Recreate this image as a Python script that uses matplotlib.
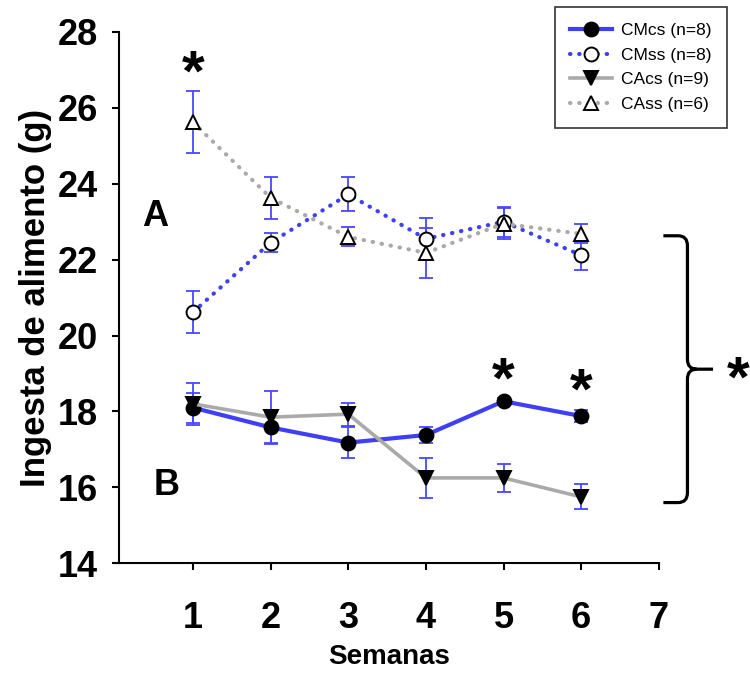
import numpy as np
import matplotlib
matplotlib.use("Agg")
import matplotlib.pyplot as plt
from matplotlib.path import Path
from matplotlib.patches import PathPatch

plt.rcParams['font.family'] = ['Liberation Sans', 'DejaVu Sans']

semanas = [1, 2, 3, 4, 5, 6]

# medias y error estandar por grupo
cmcs = [18.1, 17.58, 17.18, 17.38, 18.27, 17.88]
cmcs_se = [0.4, 0.4, 0.4, 0.2, 0.08, 0.17]
cmss = [20.62, 22.45, 23.72, 22.55, 23.0, 22.12]
cmss_se = [0.55, 0.25, 0.45, 0.55, 0.4, 0.4]
cacs = [18.2, 17.85, 17.93, 16.25, 16.25, 15.75]
cacs_se = [0.55, 0.7, 0.3, 0.52, 0.37, 0.33]
cass = [25.62, 23.63, 22.6, 22.18, 22.95, 22.68]
cass_se = [0.82, 0.55, 0.25, 0.65, 0.4, 0.25]

blue = '#3f3ff5'
grey = '#aaaaaa'
err_col = '#4848ff'

fig = plt.figure(figsize=(7.5, 6.75), dpi=100)
ax = fig.add_axes([0.1587, 0.1655, 0.7196, 0.7871])

dots = (0, (0.1, 2.1))

def serie(y, se, color, ls, marker, face, label, lw):
    ax.errorbar(semanas, y, yerr=se, fmt='none', ecolor=err_col,
                elinewidth=1.3, capsize=5, capthick=1.3, zorder=3)
    ln, = ax.plot(semanas, y, color=color, linestyle=ls, lw=lw,
                  marker=marker, markersize=10, markerfacecolor=face,
                  markeredgecolor='black', markeredgewidth=1.4,
                  dash_capstyle='round', label=label, zorder=4)
    return ln

serie(cmcs, cmcs_se, blue, '-', 'o', 'black', 'CMcs (n=8)', 3)
serie(cmss, cmss_se, blue, dots, 'o', 'white', 'CMss (n=8)', 3)
serie(cacs, cacs_se, grey, '-', 'v', 'black', 'CAcs (n=9)', 2.6)
serie(cass, cass_se, grey, dots, '^', 'white', 'CAss (n=6)', 3)

ax.set_xlim(0.046, 7)
ax.set_ylim(14, 28)
ax.set_xticks(range(1, 8))
ax.set_yticks(range(14, 29, 2))
ax.spines['top'].set_visible(False)
ax.spines['right'].set_visible(False)
for s in ('left', 'bottom'):
    ax.spines[s].set_linewidth(1.5)
ax.tick_params(axis='both', direction='out', length=5, width=1.5,
               labelsize=26)
ax.tick_params(axis='x', pad=22)
ax.tick_params(axis='y', pad=10)
for t in ax.get_xticklabels() + ax.get_yticklabels():
    t.set_fontweight('bold')

ax.set_ylabel('Ingesta de alimento (g)', fontsize=25, fontweight='bold',
              labelpad=4)
ax.set_xlabel('Semanas', fontsize=20, fontweight='bold', labelpad=6)

ax.text(0.517, 23.15, 'A', fontsize=26, fontweight='bold',
        ha='center', va='center')
ax.text(0.665, 16.04, 'B', fontsize=26, fontweight='bold',
        ha='center', va='center')

# asteriscos de diferencia por semana
star_kw = dict(fontsize=42, fontweight='bold', ha='center', va='center')
ax.text(1, cass[0] + cass_se[0] + 0.42, '*', **star_kw)
ax.text(5, cmcs[4] + 0.5, '*', **star_kw)
ax.text(6, cmcs[5] + 0.6, '*', **star_kw)

# llave entre grupos A y B
top = cass[-1] - 0.05
bot = cacs[-1] - 0.15
mid = (top + bot) / 2
x0, x1, x2 = 7.06, 7.37, 7.70
rx, ry = 0.12, 0.26
verts = [(x0, top), (x1 - rx, top), (x1, top), (x1, top - ry),
         (x1, mid + ry), (x1, mid), (x1 + rx, mid), (x2, mid),
         (x1 + rx, mid), (x1, mid), (x1, mid - ry),
         (x1, bot + ry), (x1, bot), (x1 - rx, bot), (x0, bot)]
codes = [Path.MOVETO, Path.LINETO, Path.CURVE3, Path.CURVE3,
         Path.LINETO, Path.CURVE3, Path.CURVE3, Path.LINETO,
         Path.MOVETO, Path.CURVE3, Path.CURVE3,
         Path.LINETO, Path.CURVE3, Path.CURVE3, Path.LINETO]
ax.add_patch(PathPatch(Path(verts, codes), fill=False, lw=2.3,
                       edgecolor='black', clip_on=False))
ax.text(8.02, mid - 0.32, '*', clip_on=False, **star_kw)

leg = ax.legend(loc='upper right', bbox_to_anchor=(1.126, 1.0465),
                fontsize=12.5, frameon=True, fancybox=False,
                handlelength=2.4, handletextpad=0.5, labelspacing=0.55,
                borderpad=0.9, borderaxespad=0)
leg.get_frame().set_edgecolor('black')
leg.get_frame().set_linewidth(1.2)

fig.savefig('out.png', dpi=100)
